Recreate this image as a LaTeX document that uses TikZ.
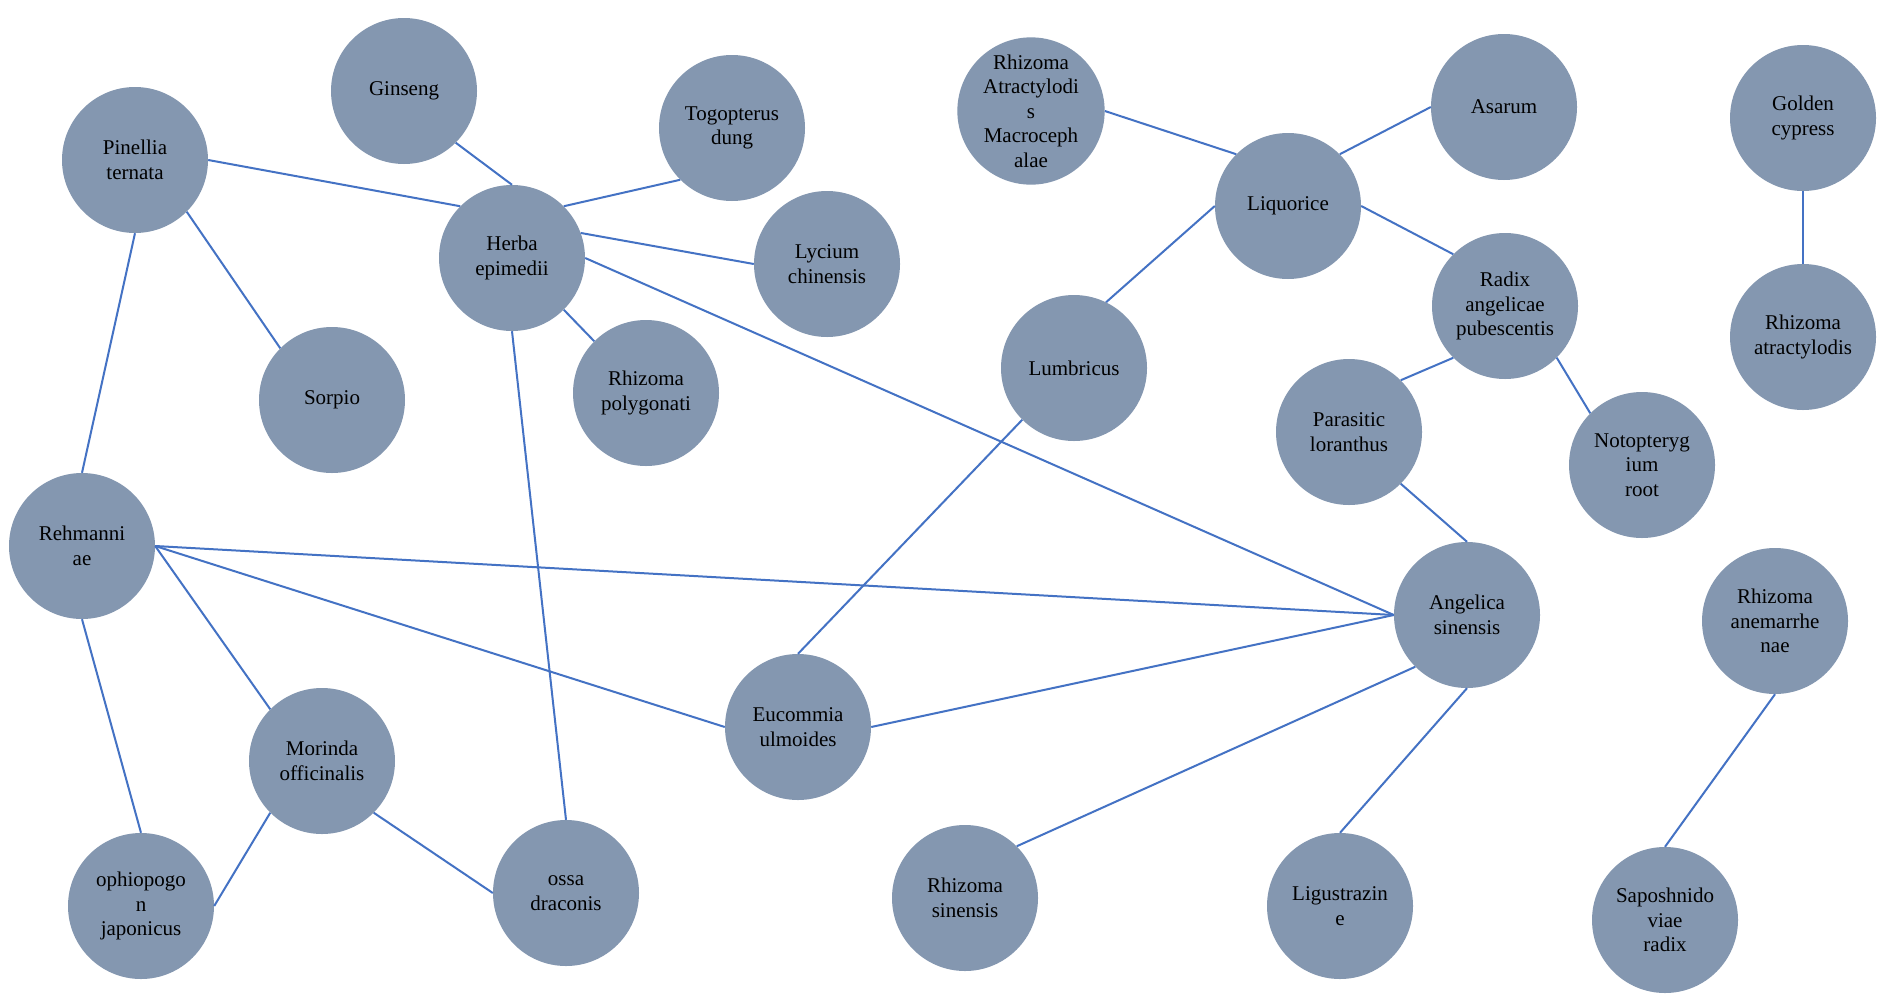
\documentclass[tikz,border=0pt]{standalone}
\usepackage{fontspec}
\setmainfont{Liberation Serif}
\definecolor{fillc}{HTML}{8497B0}
\definecolor{linec}{HTML}{4472C4}
\begin{document}
\begin{tikzpicture}[x=1pt,y=-1pt,
  herb/.style={circle,fill=fillc,minimum size=146pt,inner sep=0pt,align=center,
    font=\fontsize{21}{24.5}\selectfont,text=black},
  link/.style={draw=linec,line width=2pt}]
\useasboundingbox (0,0) rectangle (1902,1004);
\fill[white] (0,0) rectangle (1902,1004);
% nodes
\node[herb] (gin) at (404,91) {Ginseng};
\node[herb] (tog) at (732,128) {Togopterus\\dung};
\node[herb] (pin) at (135,160) {Pinellia\\ternata};
\node[herb] (her) at (512,258) {Herba\\epimedii};
\node[herb] (lyc) at (827,264) {Lycium\\chinensis};
\node[herb] (sor) at (332,400) {Sorpio};
\node[herb] (pol) at (646,393) {Rhizoma\\polygonati};
\node[herb] (ram) at (1031,111) {Rhizoma\\Atractylodi\\s\\Macroceph\\alae};
\node[herb] (asa) at (1504,107) {Asarum};
\node[herb] (gol) at (1803,118) {Golden\\cypress};
\node[herb] (liq) at (1288,206) {Liquorice};
\node[herb] (rad) at (1505,306) {Radix\\angelicae\\pubescentis};
\node[herb] (rat) at (1803,337) {Rhizoma\\atractylodis};
\node[herb] (lum) at (1074,368) {Lumbricus};
\node[herb] (par) at (1349,432) {Parasitic\\loranthus};
\node[herb] (nro) at (1642,465) {Notopteryg\\ium\\root};
\node[herb] (reh) at (82,546) {Rehmanni\\ae};
\node[herb] (mor) at (322,761) {Morinda\\officinalis};
\node[herb] (euc) at (798,727) {Eucommia\\ulmoides};
\node[herb] (oph) at (141,906) {ophiopogo\\n\\japonicus};
\node[herb] (oss) at (566,893) {ossa\\draconis};
\node[herb] (rsi) at (965,898) {Rhizoma\\sinensis};
\node[herb] (ang) at (1467,615) {Angelica\\sinensis};
\node[herb] (ane) at (1775,621) {Rhizoma\\anemarrhe\\nae};
\node[herb] (lig) at (1340,906) {Ligustrazin\\e};
\node[herb] (sap) at (1665,920) {Saposhnido\\viae\\radix};
% connectors
\draw[link] (pin.east) -- (her.north west);
\draw[link] (gin.south east) -- (her.north);
\draw[link] (tog.south west) -- (her.north east);
\draw[link] (her.20) -- (lyc.west);
\draw[link] (her.south east) -- (pol.north west);
\draw[link] (her.south) -- (oss.north);
\draw[link] (her.east) -- (ang.west);
\draw[link] (pin.south east) -- (sor.north west);
\draw[link] (pin.south) -- (reh.north);
\draw[link] (reh.east) -- (ang.west);
\draw[link] (reh.east) -- (euc.west);
\draw[link] (reh.east) -- (mor.north west);
\draw[link] (reh.south) -- (oph.north);
\draw[link] (mor.south west) -- (oph.east);
\draw[link] (mor.south east) -- (oss.west);
\draw[link] (euc.east) -- (ang.west);
\draw[link] (euc.north) -- (lum.south west);
\draw[link] (lum.64) -- (liq.west);
\draw[link] (ram.east) -- (liq.north west);
\draw[link] (asa.west) -- (liq.north east);
\draw[link] (liq.east) -- (rad.north west);
\draw[link] (rad.south west) -- (par.north east);
\draw[link] (rad.south east) -- (nro.north west);
\draw[link] (par.south east) -- (ang.north);
\draw[link] (ang.south west) -- (rsi.north east);
\draw[link] (ang.south) -- (lig.north);
\draw[link] (gol.south) -- (rat.north);
\draw[link] (ane.south) -- (sap.north);
\end{tikzpicture}
\end{document}
